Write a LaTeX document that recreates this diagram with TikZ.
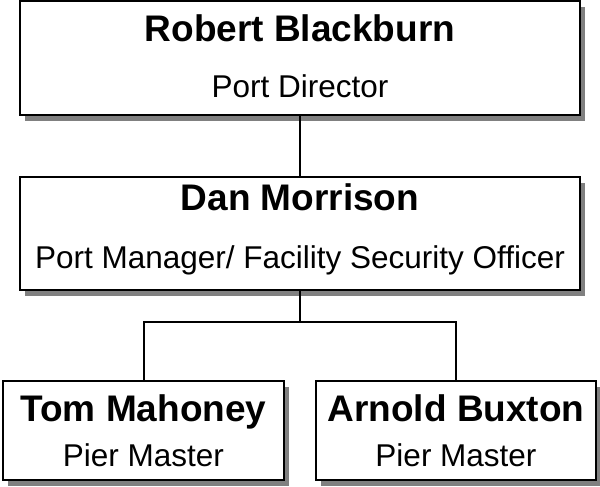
\documentclass[tikz,border=0pt]{standalone}
\usepackage{fontspec}
\setmainfont{Liberation Sans}
\usetikzlibrary{shadows}
\definecolor{shadowgray}{HTML}{808080}
\begin{document}
\begin{tikzpicture}[x=1pt,y=-1pt,
  box/.style={draw=black, line width=2pt, fill=white, rectangle, inner sep=0pt, outer sep=0pt,
    drop shadow={shadow xshift=5pt, shadow yshift=-6pt, fill=shadowgray, opacity=1}},
  personname/.style={font=\fontsize{37}{40}\selectfont\bfseries, anchor=base, inner sep=0pt},
  personrole/.style={font=\fontsize{31.5}{34}\selectfont, anchor=base, inner sep=0pt},
  link/.style={draw=black, line width=2pt}]
\useasboundingbox (0,0) rectangle (600,487);
% boxes
\node[box, minimum width=560pt, minimum height=113pt] (rb) at (300,58) {};
\node[box, minimum width=560pt, minimum height=113pt] (dm) at (300,233) {};
\node[box, minimum width=281pt, minimum height=99pt] (tm) at (143.5,430.5) {};
\node[box, minimum width=280pt, minimum height=99pt] (ab) at (456,430.5) {};
% texts
\node[personname] (rbn) at (300,42) {Robert Blackburn};
\node[personrole] (rbr) at (300,98) {Port Director};
\node[personname] (dmn) at (300,210.5) {Dan Morrison};
\node[personrole] (dmr) at (300,268) {Port Manager/ Facility Security Officer};
\node[personname] (tmn) at (143.5,421.5) {Tom Mahoney};
\node[personrole] (tmr) at (143.5,466.5) {Pier Master};
\node[personname] (abn) at (456,421.5) {Arnold Buxton};
\node[personrole] (abr) at (456,466.5) {Pier Master};
% connectors
\coordinate (j) at (300,322);
\draw[link] (rb.south) -- (dm.north);
\draw[link] (dm.south) -- (j);
\draw[link] (tm.north) |- (j) -| (ab.north);
\end{tikzpicture}
\end{document}
